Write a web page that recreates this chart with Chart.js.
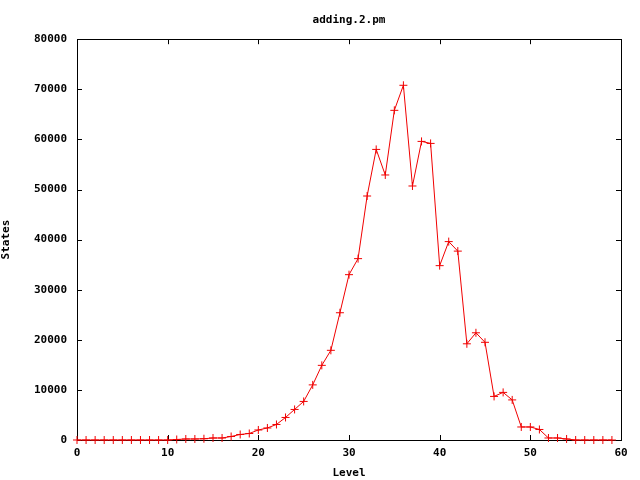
<!DOCTYPE html>
<html>
<head>
<meta charset="utf-8">
<script src="https://cdn.jsdelivr.net/npm/chart.js@4/dist/chart.umd.min.js"></script>
<style>
  html, body { margin: 0; padding: 0; background: #fff; }
  #wrap { width: 640px; height: 480px; }
</style>
</head>
<body>
<div id="wrap"><canvas id="chart"></canvas></div>
<script>
const levels = [];
for (let i = 0; i < 60; i++) levels.push(i);

const states = [
    0, 0, 0, 0, 0, 0, 0, 0, 0, 0,
    0, 100, 200, 200, 250, 400, 400, 700, 1100, 1300,
    2000, 2400, 3100, 4500, 6100, 7700, 11000, 14900, 17900, 25400,
    33000, 36200, 48700, 58000, 52900, 65800, 70800, 50700, 59600, 59200,
    34800, 39600, 37700, 19200, 21400, 19500, 8700, 9500, 8000, 2600,
    2600, 2100, 400, 400, 200, 0, 0, 0, 0, 0
];

const xTicks = [0, 10, 20, 30, 40, 50, 60];
const yTicks = [0, 10000, 20000, 30000, 40000, 50000, 60000, 70000, 80000];

const font = { family: 'DejaVu Sans Mono', size: 11, weight: 'bold' };

// gnuplot-like frame with inward ticks on all four sides
const frame = {
    id: 'frame',
    beforeDatasetsDraw(chart) {
        const { ctx, chartArea: a, scales } = chart;
        const len = 5;
        ctx.save();
        ctx.strokeStyle = '#000';
        ctx.lineWidth = 1;
        ctx.beginPath();
        xTicks.forEach(v => {
            const x = Math.round(scales.x.getPixelForValue(v)) + 0.5;
            ctx.moveTo(x, a.bottom); ctx.lineTo(x, a.bottom - len);
            ctx.moveTo(x, a.top); ctx.lineTo(x, a.top + len);
        });
        yTicks.forEach(v => {
            const y = Math.round(scales.y.getPixelForValue(v)) + 0.5;
            ctx.moveTo(a.left, y); ctx.lineTo(a.left + len, y);
            ctx.moveTo(a.right, y); ctx.lineTo(a.right - len, y);
        });
        ctx.stroke();
        ctx.strokeRect(Math.round(a.left) + 0.5, Math.round(a.top) + 0.5,
            Math.round(a.right - a.left), Math.round(a.bottom - a.top));
        ctx.restore();
    }
};

new Chart(document.getElementById('chart'), {
    type: 'line',
    data: {
        datasets: [{
            label: 'adding.2.pm',
            data: levels.map((l, i) => ({ x: l, y: states[i] })),
            borderColor: '#f00000',
            backgroundColor: '#f00000',
            borderWidth: 1,
            pointStyle: 'cross',
            pointRadius: 4,
            pointBorderWidth: 1,
            tension: 0,
            clip: false
        }]
    },
    options: {
        responsive: true,
        maintainAspectRatio: false,
        animation: false,
        layout: { padding: { left: 0, right: 19, top: 0, bottom: 0 } },
        scales: {
            x: {
                type: 'linear',
                min: 0,
                max: 60,
                afterFit: s => { s.height = 40; },
                afterBuildTicks: s => { s.ticks = xTicks.map(v => ({ value: v })); },
                grid: { display: false, drawTicks: false },
                border: { display: false },
                ticks: { color: '#000', font: font, padding: 7, maxRotation: 0 },
                title: { display: true, text: 'Level', color: '#000', font: font, padding: { top: 2, bottom: 0 } }
            },
            y: {
                min: 0,
                max: 80000,
                afterFit: s => { s.width = 77; },
                afterBuildTicks: s => { s.ticks = yTicks.map(v => ({ value: v })); },
                grid: { display: false, drawTicks: false },
                border: { display: false },
                ticks: { color: '#000', font: font, padding: 10, callback: v => String(v) },
                title: { display: true, text: 'States', color: '#000', font: font, padding: { top: 0, bottom: 0 } }
            }
        },
        plugins: {
            legend: { display: false },
            tooltip: { enabled: false },
            title: {
                display: true,
                fullSize: false,
                text: 'adding.2.pm',
                color: '#000',
                font: font,
                padding: { top: 14, bottom: 12 }
            }
        }
    },
    plugins: [frame]
});
</script>
</body>
</html>
